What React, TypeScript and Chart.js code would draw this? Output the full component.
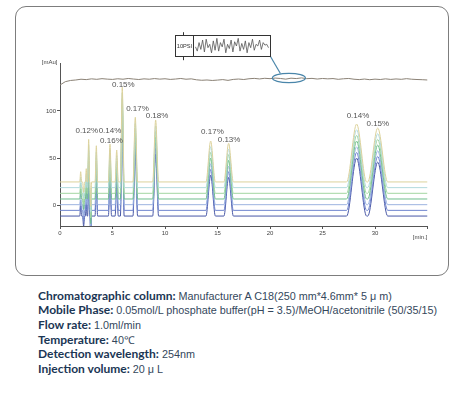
import { useEffect, useRef } from 'react';
import { Chart, registerables } from 'chart.js';

Chart.register(...registerables);

// ---- data ----
const xTicks = [0, 5, 10, 15, 20, 25, 30, 35];
const yTicks = [0, 50, 100];

// peak table (min, height above own baseline in mAu, half base width in min); negative heights are dips
const peakTimes = [1.97, 2.25, 2.5, 2.73, 2.93, 3.46, 4.76, 5.4, 5.93, 7.17, 9.11, 14.35, 16.06, 28.25, 30.26];
const peakHeights = [10.8, -11, 14, 45, -26, 38.2, 40, 33.7, 99.9, 68.2, 65.4, 43.2, 40.8, 61.1, 56.9];
const peakWidths = [0.09, 0.1, 0.08, 0.1, 0.08, 0.12, 0.15, 0.15, 0.18, 0.22, 0.28, 0.45, 0.45, 0.95, 0.95];

// baseline offsets of the seven overlaid injections (top to bottom)
const traceOffsets = [25, 19, 13, 7, 1, -5, -11];
const traceColors = ['#dcd29c', '#b2dadd', '#a3d6a2', '#6fbe8c', '#9cb3e0', '#7086cf', '#4857a6'];

// pressure trace
const pressureTimes = [0, 0.5, 1, 1.5, 2, 2.5, 3, 3.5, 4, 4.5, 5, 5.5, 6, 6.5, 7, 7.5, 8, 8.5, 9, 9.5, 10, 10.5, 11, 11.5, 12, 12.5, 13, 13.5, 14, 14.5, 15, 15.5, 16, 16.5, 17, 17.5, 18, 18.5, 19, 19.5, 20, 20.5, 21, 21.5, 22, 22.5, 23, 23.5, 24, 24.5, 25, 25.5, 26, 26.5, 27, 27.5, 28, 28.5, 29, 29.5, 30, 30.5, 31, 31.5, 32, 32.5, 33, 33.5, 34, 34.5, 35];
const pressureValues = [127.3, 130.8, 132.1, 132.6, 133.4, 133.0, 133.8, 133.3, 134.0, 133.5, 133.2, 133.9, 133.4, 134.2, 133.6, 133.1, 133.8, 133.4, 134.1, 133.5, 133.9, 133.2, 133.6, 134.2, 133.4, 133.8, 132.8, 132.3, 132.6, 132.1, 132.5, 133.0, 132.2, 133.2, 133.6, 133.1, 133.9, 134.3, 133.7, 134.4, 134.0, 134.6, 134.2, 133.5, 134.5, 134.1, 134.8, 134.0, 134.3, 133.6, 134.2, 133.8, 134.1, 133.3, 133.9, 134.2, 133.4, 133.0, 133.6, 132.9, 133.5, 133.1, 133.8, 133.2, 133.7, 133.3, 134.0, 133.4, 133.1, 132.9, 132.6];

// RSD labels and their anchor (min, mAu)
const rsdLabels = ['0.12%', '0.14%', '0.16%', '0.15%', '0.17%', '0.18%', '0.17%', '0.13%', '0.14%', '0.15%'];
const rsdX = [2.55, 4.76, 4.9, 6.03, 7.38, 9.24, 14.52, 16.1, 28.38, 30.27];
const rsdY = [78.8, 78.8, 68.9, 128.0, 102.7, 94.6, 77.7, 70.0, 95.3, 86.5];

// pressure zoom marker (min, bar)
const markerAt = [21.8, 134.7];
// inset wave (0 = bottom, 1 = top)
const insetWave = [0.45, 0.2, 0.7, 0.3, 0.85, 0.15, 0.9, 0.4, 0.6, 0.1, 0.8, 0.25, 0.95, 0.2, 0.7, 0.45, 0.9, 0.1, 0.6, 0.35, 0.85, 0.15, 0.75, 0.5, 0.95, 0.2, 0.65, 0.3, 0.8, 0.1, 0.7, 0.4, 0.9, 0.25, 0.6, 0.5, 0.85, 0.3, 0.7, 0.55, 0.6, 0.4];

const specs: [string, string][] = [
  ['Chromatographic column:', ' Manufacturer A C18(250 mm*4.6mm* 5 μ m)'],
  ['Mobile Phase:', ' 0.05mol/L phosphate buffer(pH = 3.5)/MeOH/acetonitrile (50/35/15)'],
  ['Flow rate:', ' 1.0ml/min'],
  ['Temperature:', ' 40℃'],
  ['Detection wavelength:', ' 254nm'],
  ['Injection volume:', ' 20 μ L'],
];

const FONT = '"Liberation Sans", Arial, sans-serif';

function tracePoints(offset: number) {
  const pts: { x: number; y: number }[] = [{ x: 0, y: offset }];
  peakTimes.forEach((t, i) => {
    pts.push({ x: t - peakWidths[i], y: offset });
    pts.push({ x: t, y: offset + peakHeights[i] });
    pts.push({ x: t + peakWidths[i], y: offset });
  });
  pts.push({ x: 35, y: offset });
  return pts;
}

const annotate = {
  id: 'annotate',
  afterDatasetsDraw(chart: any) {
    const { ctx, chartArea: a, scales } = chart;
    const x = scales.x;
    const y = scales.y;
    ctx.save();
    ctx.font = `8px ${FONT}`;
    ctx.fillStyle = '#555';
    ctx.textAlign = 'center';
    ctx.textBaseline = 'middle';
    rsdLabels.forEach((t, i) => ctx.fillText(t, x.getPixelForValue(rsdX[i]), y.getPixelForValue(rsdY[i])));

    ctx.font = `6px ${FONT}`;
    ctx.fillStyle = '#444';
    ctx.textAlign = 'right';
    ctx.fillText('[mAu]', a.left - 2.5, a.top - 1.5);
    ctx.fillText('[min.]', a.right, a.bottom + 11.7);

    // marker ellipse
    const ex = x.getPixelForValue(markerAt[0]);
    const ey = y.getPixelForValue(markerAt[1]);
    ctx.strokeStyle = '#4a86aa';
    ctx.lineWidth = 1.2;
    ctx.beginPath();
    ctx.ellipse(ex, ey, 16.5, 4.7, 0, 0, Math.PI * 2);
    ctx.stroke();

    // inset
    const bx = Math.round(ex - 113.5) + 0.5;
    const by = Math.round(ey - 42.7) + 0.5;
    const bw = 95;
    const bh = 21;
    ctx.beginPath();
    ctx.moveTo(bx + bw, by + bh);
    ctx.lineTo(ex - 8.5, ey - 4.5);
    ctx.stroke();

    ctx.strokeStyle = '#333';
    ctx.lineWidth = 1;
    ctx.strokeRect(bx, by, bw, bh);
    ctx.beginPath();
    ctx.moveTo(bx + 18, by);
    ctx.lineTo(bx + 18, by + bh);
    ctx.moveTo(bx + 8, by - 3.3);
    ctx.lineTo(bx + 8, by);
    ctx.moveTo(bx + 8, by + bh);
    ctx.lineTo(bx + 8, by + bh + 3.7);
    ctx.stroke();
    ctx.font = `5.7px ${FONT}`;
    ctx.fillStyle = '#333';
    ctx.textAlign = 'center';
    ctx.fillText('10PSI', bx + 9, by + bh / 2 + 0.5);

    ctx.strokeStyle = '#555';
    ctx.lineWidth = 0.8;
    ctx.beginPath();
    const wx0 = bx + 20;
    const wx1 = bx + 93;
    insetWave.forEach((v, i) => {
      const px = wx0 + ((wx1 - wx0) * i) / (insetWave.length - 1);
      const py = by + bh - 2 - v * (bh - 4);
      if (i === 0) ctx.moveTo(px, py);
      else ctx.lineTo(px, py);
    });
    ctx.stroke();
    ctx.restore();
  },
};

export default function App() {
  const ref = useRef<HTMLCanvasElement>(null);
  useEffect(() => {
    if (!ref.current) return;
    const datasets: any[] = [
      {
        data: pressureTimes.map((t, i) => ({ x: t, y: pressureValues[i] })),
        borderColor: '#8b8276',
        borderWidth: 1,
        cubicInterpolationMode: 'default',
        tension: 0,
      },
    ];
    traceOffsets.forEach((off, i) => {
      datasets.push({
        data: tracePoints(off),
        borderColor: traceColors[i],
        borderWidth: 1,
        cubicInterpolationMode: 'monotone',
      });
    });
    const tickFont = { family: FONT, size: 6 };
    const chart = new Chart(ref.current, {
      type: 'line',
      data: { datasets },
      options: {
        animation: false,
        responsive: false,
        maintainAspectRatio: false,
        layout: { padding: { left: 0, top: 57.5, right: 21.5, bottom: 0 } },
        plugins: { legend: { display: false }, tooltip: { enabled: false } },
        elements: { point: { radius: 0 }, line: { borderWidth: 1 } },
        scales: {
          x: {
            type: 'linear',
            min: 0,
            max: 35,
            afterBuildTicks: (s: any) => {
              s.ticks = xTicks.map((v) => ({ value: v }));
            },
            afterFit: (s: any) => {
              s.height = 50;
            },
            ticks: {
              font: tickFont,
              color: '#444',
              padding: 1,
              maxRotation: 0,
              autoSkip: false,
              callback: (v: any) => (v === 35 ? '' : String(v)),
            },
            grid: { display: true, drawOnChartArea: false, drawTicks: true, tickLength: 3, color: '#555' },
            border: { display: true, color: '#555', width: 1 },
          },
          y: {
            type: 'linear',
            min: -21.5,
            max: 150,
            afterBuildTicks: (s: any) => {
              s.ticks = yTicks.map((v) => ({ value: v }));
            },
            afterFit: (s: any) => {
              s.width = 45;
            },
            ticks: { font: tickFont, color: '#444', padding: 1 },
            grid: { display: true, drawOnChartArea: false, drawTicks: true, tickLength: 3, color: '#555' },
            border: { display: true, color: '#555', width: 1 },
          },
        },
      },
      plugins: [annotate],
    });
    return () => chart.destroy();
  }, []);

  return (
    <div style={{ position: 'absolute', left: 0, top: 0, width: 470, height: 397, background: '#fff' }}>
      <div
        style={{
          position: 'absolute',
          left: 15,
          top: 6,
          width: 434,
          height: 270,
          border: '1px solid #7d7d7d',
          borderRadius: 11,
          boxSizing: 'border-box',
        }}
      />
      <canvas ref={ref} width={434} height={270} style={{ position: 'absolute', left: 15, top: 6, width: 434, height: 270 }} />
      <div
        style={{
          position: 'absolute',
          left: 38,
          top: 288.5,
          fontSize: 10.8,
          lineHeight: '14.7px',
          whiteSpace: 'nowrap',
          fontFamily: FONT,
          color: '#34475c',
        }}
      >
        {specs.map(([k, v], i) => (
          <div key={i}>
            <span style={{ fontFamily: 'Lato, sans-serif', fontWeight: 700, fontSize: 12, color: '#1b3654' }}>{k}</span>
            <span>{v}</span>
          </div>
        ))}
      </div>
    </div>
  );
}
